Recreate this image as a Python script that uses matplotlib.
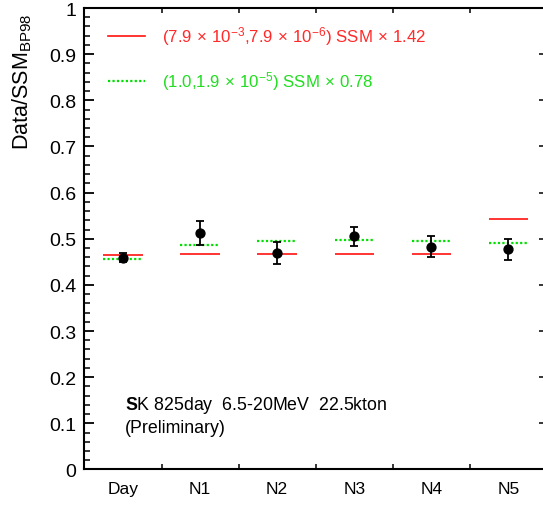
import matplotlib
matplotlib.use("Agg")
import matplotlib.pyplot as plt
from matplotlib.ticker import MultipleLocator, FixedLocator, NullFormatter, FuncFormatter

plt.rcParams["font.family"] = ["Liberation Sans", "DejaVu Sans"]
plt.rcParams["mathtext.fontset"] = "custom"
plt.rcParams["mathtext.rm"] = "Liberation Sans"
plt.rcParams["mathtext.it"] = "Liberation Sans:italic"
plt.rcParams["mathtext.bf"] = "Liberation Sans:bold"

# ---- data: day + 5 night bins, ratio to SSM(BP98) ----
bins = ["Day", "N1", "N2", "N3", "N4", "N5"]
ratio = [0.459, 0.512, 0.470, 0.505, 0.483, 0.477]
ratio_err = [0.010, 0.026, 0.024, 0.020, 0.022, 0.023]
# expected day/night pattern for two oscillation solutions
lma_pred = [0.465, 0.467, 0.467, 0.467, 0.467, 0.543]
lmo_pred = [0.456, 0.486, 0.496, 0.498, 0.496, 0.491]
X = r"$\,\times\,$"
lma_label = "(7.9" + X + r"10$^{-3}$,7.9" + X + r"10$^{-6}$) SSM" + X + "1.42"
lmo_label = "(1.0,1.9" + X + r"10$^{-5}$) SSM" + X + "0.78"

RED, GREEN = "#ff1010", "#00e000"
RED_TXT, GREEN_TXT = "#ff2a2a", "#22dd22"

fig = plt.figure(figsize=(5.43, 5.06), dpi=100)
ax = fig.add_axes([0.1556, 0.0702, 0.8444, 0.912])

xc = [i + 0.5 for i in range(len(bins))]
hw = 0.255
for x, r, g in zip(xc, lma_pred, lmo_pred):
    ax.plot([x - hw, x + hw], [r, r], color=RED, lw=1.2, solid_capstyle="butt")
    ax.plot([x - hw, x + hw], [g, g], color=GREEN, lw=1.6, ls=(0, (1, 1)))

ax.errorbar(xc, ratio, yerr=ratio_err, fmt="o", color="black", ms=6.4,
            elinewidth=1.3, capsize=3.2, capthick=1.3, zorder=5)

ax.set_xlim(0, 5.95)
ax.set_ylim(0, 1)

# y axis: majors every 0.1, minors every 0.02, ticks inside
ax.yaxis.set_major_locator(MultipleLocator(0.1))
ax.yaxis.set_minor_locator(MultipleLocator(0.02))
ax.yaxis.set_major_formatter(FuncFormatter(
    lambda v, _: "%d" % round(v) if abs(v - round(v)) < 1e-6 else "%.1f" % v))
ax.tick_params(axis="y", which="major", direction="in", length=7, width=1.3,
               labelsize=14, pad=6, left=True, right=False)
ax.tick_params(axis="y", which="minor", direction="in", length=4, width=1.1,
               left=True, right=False)

# x axis: ticks at bin boundaries, labels at bin centres
ax.xaxis.set_major_locator(FixedLocator([1, 2, 3, 4, 5]))
ax.xaxis.set_major_formatter(NullFormatter())
ax.xaxis.set_minor_locator(FixedLocator(xc))
ax.set_xticklabels(bins, minor=True)
ax.tick_params(axis="x", which="major", direction="in", length=3.5, width=1.1,
               top=True, bottom=True)
ax.tick_params(axis="x", which="minor", length=0, labelsize=12.5, pad=8.5)

for s in ("left", "bottom", "top"):
    ax.spines[s].set_linewidth(1.5)
ax.spines["right"].set_visible(False)

# short ticks on the right-hand side only
axr = ax.twinx()
axr.set_ylim(0, 1)
axr.yaxis.set_major_locator(MultipleLocator(0.1))
axr.yaxis.set_major_formatter(NullFormatter())
axr.tick_params(axis="y", direction="in", length=3, width=1.1, pad=0)
for s in axr.spines.values():
    s.set_visible(False)
axr.set_xlim(ax.get_xlim())

# legend drawn by hand
ax.plot([0.0513, 0.132], [0.940, 0.940], transform=ax.transAxes, color=RED, lw=1.2)
ax.text(0.168, 0.940, lma_label, transform=ax.transAxes, color=RED_TXT,
        fontsize=12.2, va="center")
ax.plot([0.0513, 0.132], [0.842, 0.842], transform=ax.transAxes, color=GREEN,
        lw=1.6, ls=(0, (1, 1)))
ax.text(0.168, 0.842, lmo_label, transform=ax.transAxes, color=GREEN_TXT,
        fontsize=12.2, va="center")

ax.text(0.088, 0.130, r"$\mathbf{S}$K 825day  6.5-20MeV  22.5kton",
        transform=ax.transAxes, fontsize=12.8, va="baseline")
ax.text(0.088, 0.082, "(Preliminary)", transform=ax.transAxes,
        fontsize=12.8, va="baseline")

fig.text(22 / 543, 1 - 82 / 506, r"Data/SSM$_{\mathrm{BP98}}$", rotation=90,
         fontsize=15.5, ha="center", va="center")

fig.savefig("out.png", dpi=100)
